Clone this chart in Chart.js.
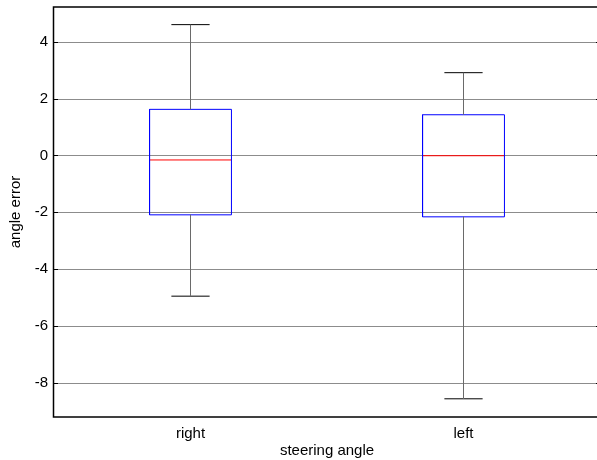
<!DOCTYPE html>
<html><head><meta charset="utf-8">
<script src="https://cdn.jsdelivr.net/npm/chart.js@4"></script>
<style>html,body{margin:0;padding:0;overflow:hidden;background:#fff}#wrap{width:604px;height:460px}</style>
</head><body><div id="wrap"><canvas id="c"></canvas></div>
<script>
const categories = ['right', 'left'];
const whiskerLow  = [-4.95, -8.56];
const q1          = [-2.09, -2.16];
const medians     = [-0.16, -0.01];
const q3          = [1.62, 1.43];
const whiskerHigh = [4.60, 2.91];
const yTicks = [-8, -6, -4, -2, 0, 2, 4];

const BOX_HALF = 0.15, CAP_HALF = 0.07;
const FONT = {family: "'Liberation Sans', Arial, sans-serif", size: 15};

function seg(points, color, dash) {
  return {type: 'scatter', data: points, showLine: true, borderColor: color, borderWidth: 1,
    borderDash: dash || [], pointRadius: 0, pointHoverRadius: 0, fill: false, tension: 0};
}
const datasets = [];
categories.forEach((c, i) => {
  const x = i + 1;
  datasets.push(seg([{x, y: q3[i]}, {x, y: whiskerHigh[i]}], '#6a6a6a'));
  datasets.push(seg([{x, y: q1[i]}, {x, y: whiskerLow[i]}], '#6a6a6a'));
  datasets.push(seg([{x: x - CAP_HALF, y: whiskerHigh[i]}, {x: x + CAP_HALF, y: whiskerHigh[i]}], '#000'));
  datasets.push(seg([{x: x - CAP_HALF, y: whiskerLow[i]}, {x: x + CAP_HALF, y: whiskerLow[i]}], '#000'));
  datasets.push(seg([
    {x: x - BOX_HALF, y: q1[i]}, {x: x + BOX_HALF, y: q1[i]},
    {x: x + BOX_HALF, y: q3[i]}, {x: x - BOX_HALF, y: q3[i]},
    {x: x - BOX_HALF, y: q1[i]}], '#0000ff'));
  datasets.push(seg([{x: x - BOX_HALF, y: medians[i]}, {x: x + BOX_HALF, y: medians[i]}], '#ff0000'));
});

const framePlugin = {
  id: 'frame',
  beforeDatasetsDraw(chart) {
    const {ctx, chartArea: a, scales: {y}} = chart;
    ctx.save();
    ctx.strokeStyle = '#8c8c8c';
    ctx.lineWidth = 1;
    yTicks.forEach(v => {
      const py = Math.round(y.getPixelForValue(v)) + 0.5;
      ctx.beginPath(); ctx.moveTo(a.left, py); ctx.lineTo(a.right, py); ctx.stroke();
    });
    ctx.restore();
  },
  afterDatasetsDraw(chart) {
    const {ctx, chartArea: a, scales: {y}} = chart;
    ctx.save();
    ctx.strokeStyle = '#000';
    ctx.lineWidth = 1;
    ctx.setLineDash([]);
    yTicks.forEach(v => {
      const py = Math.round(y.getPixelForValue(v)) + 0.5;
      ctx.beginPath(); ctx.moveTo(a.left, py); ctx.lineTo(a.left + 4, py); ctx.stroke();
      ctx.beginPath(); ctx.moveTo(a.right - 4, py); ctx.lineTo(a.right, py); ctx.stroke();
    });
    ctx.lineWidth = 1.5;
    ctx.strokeRect(Math.round(a.left) - 0.5, Math.round(a.top), Math.round(a.right - a.left), Math.round(a.bottom - a.top));
    ctx.restore();
  }
};

new Chart(document.getElementById('c'), {
  type: 'scatter',
  data: {datasets},
  plugins: [framePlugin],
  options: {
    responsive: true, maintainAspectRatio: false, animation: false,
    layout: {padding: {left: 0, top: 7, right: 4, bottom: 0}},
    plugins: {legend: {display: false}, tooltip: {enabled: false}},
    scales: {
      x: {
        type: 'linear', min: 0.5, max: 2.5,
        afterBuildTicks: s => { s.ticks = categories.map((c, i) => ({value: i + 1})); },
        afterFit: s => { s.height = 43; s.paddingLeft = 0; s.paddingRight = 0; },
        ticks: {color: '#000', font: FONT, padding: 8, maxRotation: 0,
          callback: v => categories[Math.round(v) - 1] || ''},
        grid: {display: false, drawTicks: false},
        border: {display: false},
        title: {display: true, text: 'steering angle', color: '#000', font: FONT, padding: {top: 0, bottom: 0}}
      },
      y: {
        type: 'linear', min: -9.2, max: 5.22,
        afterBuildTicks: s => { s.ticks = yTicks.map(v => ({value: v})); },
        afterFit: s => { s.width = 54; s.paddingTop = 0; s.paddingBottom = 0; },
        ticks: {color: '#000', font: FONT, padding: 6},
        grid: {display: false, drawTicks: false},
        border: {display: false},
        title: {display: true, text: 'angle error', color: '#000', font: FONT, padding: 7}
      }
    }
  }
});
</script>
</body></html>
